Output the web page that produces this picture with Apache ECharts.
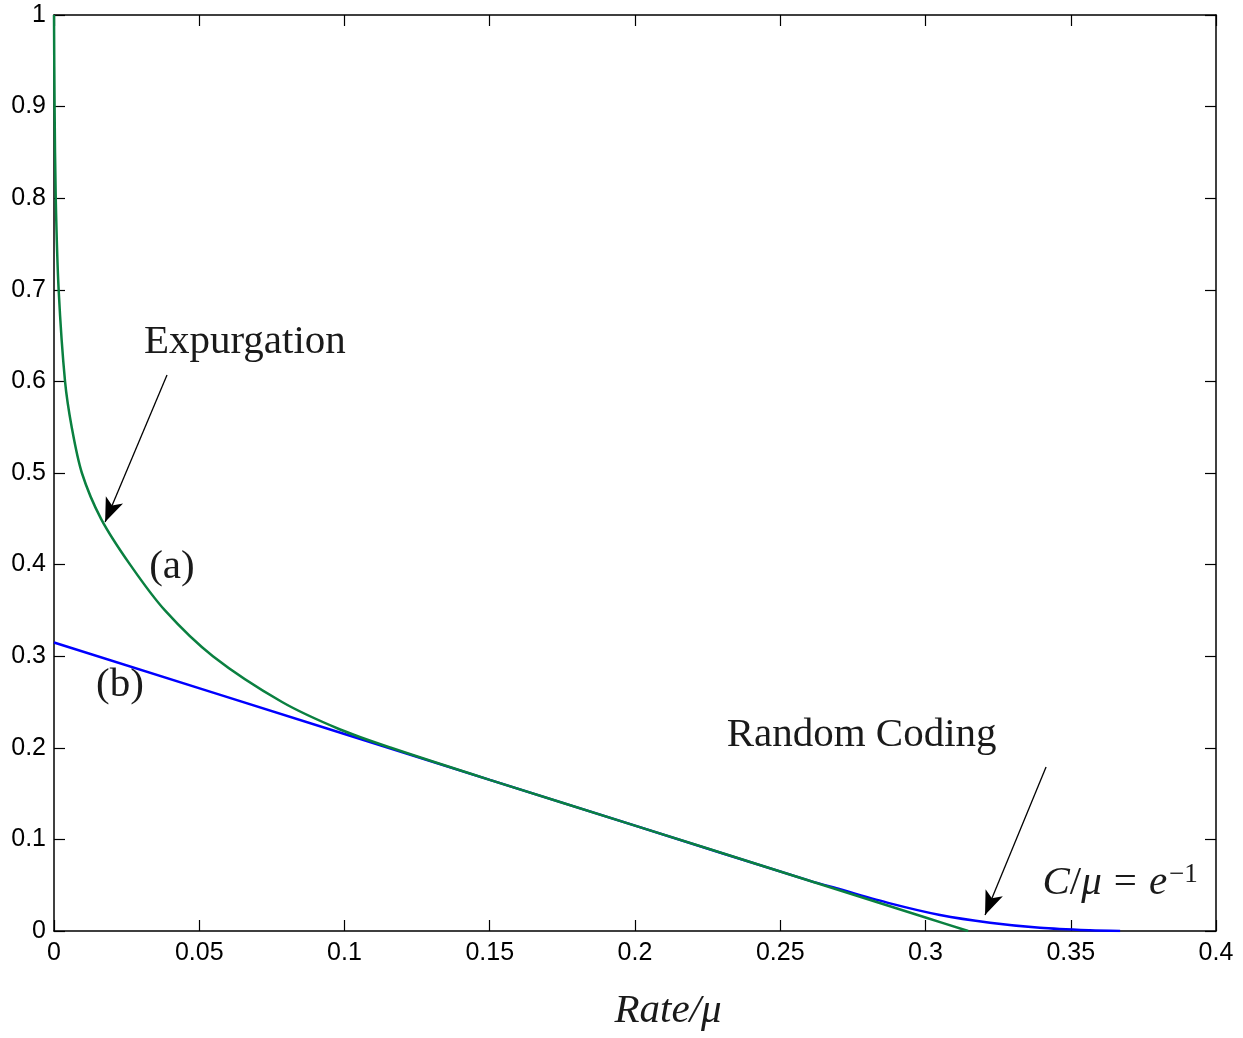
<!DOCTYPE html>
<html>
<head>
<meta charset="utf-8">
<script src="https://cdn.jsdelivr.net/npm/echarts@6/dist/echarts.min.js"></script>
<style>
html, body { margin: 0; padding: 0; background: #fff; }
#chart { width: 1243px; height: 1038px; }
</style>
</head>
<body>
<div id="chart"></div>
<script>
// curve (a): expurgation exponent
const expRate = [0, 0.0002, 0.0006, 0.0016, 0.0038, 0.0061, 0.0096, 0.0162, 0.0262, 0.0382, 0.0547, 0.0785, 0.0985, 0.116, 0.15, 0.2, 0.25, 0.3, 0.3147];
const expE    = [1.0, 0.9, 0.8, 0.7, 0.6, 0.55, 0.5, 0.45, 0.4, 0.35, 0.3, 0.25, 0.22, 0.2, 0.165, 0.115, 0.065, 0.0147, 0];

// curve (b): random coding exponent
const rcRate = [0, 0.1, 0.2, 0.26, 0.2706, 0.2878, 0.305, 0.3222, 0.3394, 0.3566, 0.367];
const rcE    = [0.315, 0.215, 0.115, 0.055, 0.0455, 0.0302, 0.0175, 0.0091, 0.0036, 0.0008, 0];

const xTicks = [0, 0.05, 0.1, 0.15, 0.2, 0.25, 0.3, 0.35, 0.4];
const yTicks = [0, 0.1, 0.2, 0.3, 0.4, 0.5, 0.6, 0.7, 0.8, 0.9, 1];

// annotations (data coordinates)
const arrows = [
    [[0.0389, 0.607], [0.0176, 0.4465]],
    [[0.3415, 0.179], [0.3205, 0.0175]]
];
const notes = [
    { text: 'Expurgation', at: [0.0657, 0.643] },
    { text: '(a)', at: [0.0406, 0.397] },
    { text: '(b)', at: [0.0227, 0.2686] },
    { text: 'Random Coding', at: [0.278, 0.214] },
    { text: '{i|C}{n|/}{i|μ}{m|=}{i|e}{s|−1}', at: [0.367, 0.0524] }
];

function zip(a, b) { return a.map((v, i) => [v, b[i]]); }

const myChart = echarts.init(document.getElementById('chart'));
const serif = 'Liberation Serif';
const ink = '#1a1a1a';
const axisCommon = {
    type: 'value',
    axisLine: { show: true, onZero: false, lineStyle: { color: '#000', width: 1.5 } },
    axisTick: { show: true, inside: true, length: 11, lineStyle: { color: '#000', width: 1.2 } },
    splitLine: { show: false }
};

const option = {
    animation: false,
    backgroundColor: '#fff',
    grid: { left: 54, right: 27, top: 15, bottom: 107 },
    xAxis: [
        Object.assign({}, axisCommon, {
            min: 0, max: 0.4, interval: 0.05, position: 'bottom',
            name: 'Rate/μ', nameLocation: 'middle', nameGap: 60,
            nameTextStyle: { fontFamily: serif, fontStyle: 'italic', fontSize: 41, color: ink, padding: [0, 0, 0, 66] },
            axisLabel: { fontFamily: 'Liberation Sans', fontSize: 25, color: '#000', margin: 10,
                formatter: v => String(xTicks.find(t => Math.abs(t - v) < 1e-9) ?? v) }
        }),
        Object.assign({}, axisCommon, {
            min: 0, max: 0.4, interval: 0.05, position: 'top', axisLabel: { show: false }
        })
    ],
    yAxis: [
        Object.assign({}, axisCommon, {
            min: 0, max: 1, interval: 0.1, position: 'left',
            axisLabel: { fontFamily: 'Liberation Sans', fontSize: 25, color: '#000', margin: 8,
                formatter: v => String(yTicks.find(t => Math.abs(t - v) < 1e-9) ?? v) }
        }),
        Object.assign({}, axisCommon, {
            min: 0, max: 1, interval: 0.1, position: 'right', axisLabel: { show: false }
        })
    ],
    series: [
        {
            name: 'Random Coding',
            type: 'line',
            showSymbol: false,
            smooth: 0.3,
            data: zip(rcRate, rcE),
            lineStyle: { color: '#0000ff', width: 2.5 }
        },
        {
            name: 'Expurgation',
            type: 'line',
            showSymbol: false,
            smooth: 0.3,
            data: zip(expRate, expE),
            lineStyle: { color: '#0a8040', width: 2.5 },
            markLine: {
                silent: true,
                symbol: ['none', 'arrow'],
                symbolSize: [14, 24],
                label: { show: false },
                lineStyle: { color: '#000', width: 1.3, type: 'solid' },
                data: arrows.map(a => [{ coord: a[0] }, { coord: a[1] }])
            }
        },
        {
            name: 'notes',
            type: 'scatter',
            symbolSize: 0,
            silent: true,
            itemStyle: { opacity: 1 },
            data: notes.map(n => ({ value: n.at, name: n.text })),
            label: {
                show: true,
                position: 'inside',
                formatter: p => p.name,
                fontFamily: serif,
                fontSize: 41,
                color: ink,
                textBorderWidth: 0,
                rich: {
                    i: { fontFamily: serif, fontStyle: 'italic', fontSize: 41, color: ink, textBorderWidth: 0 },
                    n: { fontFamily: serif, fontSize: 41, color: ink, textBorderWidth: 0 },
                    m: { fontFamily: serif, fontSize: 41, color: ink, textBorderWidth: 0, padding: [0, 12, 0, 12] },
                    s: { fontFamily: serif, fontSize: 27, color: ink, textBorderWidth: 0, verticalAlign: 'top', padding: [0, 0, 16, 2] }
                }
            }
        }
    ]
};
myChart.setOption(option);
</script>
</body>
</html>
